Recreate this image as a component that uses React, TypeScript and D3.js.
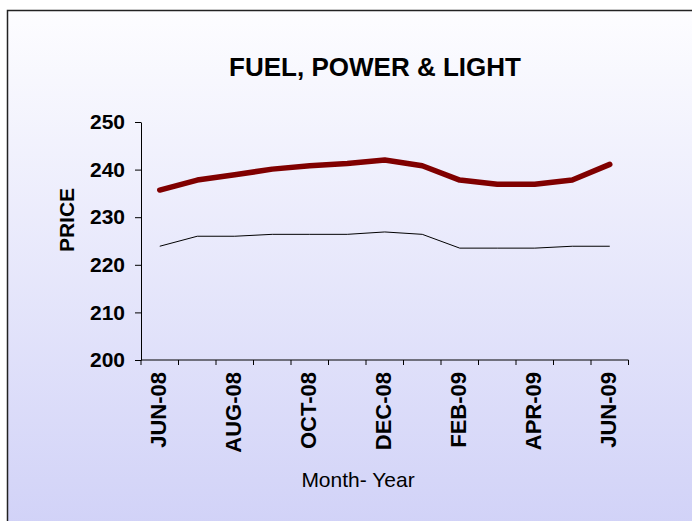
import { useEffect, useRef } from "react";
import * as d3 from "d3";

const months = [
  "JUN-08", "JUL-08", "AUG-08", "SEP-08", "OCT-08", "NOV-08", "DEC-08",
  "JAN-09", "FEB-09", "MAR-09", "APR-09", "MAY-09", "JUN-09",
];
const seriesA = [235.7, 237.8, 238.9, 240.1, 240.8, 241.3, 242.0, 240.8, 237.8, 236.9, 236.9, 237.8, 241.1];
const seriesB = [223.9, 226.0, 226.0, 226.4, 226.4, 226.4, 226.9, 226.4, 223.5, 223.5, 223.5, 223.9, 223.9];
const yTicks = [200, 210, 220, 230, 240, 250];

const FONT = "'Liberation Sans', Arial, Helvetica, sans-serif";

export default function App() {
  const ref = useRef<SVGSVGElement>(null);

  useEffect(() => {
    if (!ref.current) return;
    const w = 692;
    const h = 521;
    const m = { top: 122, left: 141, right: 628.5, bottom: 360 };

    const svg = d3.select(ref.current);
    svg.selectAll("*").remove();

    const defs = svg.append("defs");
    const grad = defs
      .append("linearGradient")
      .attr("id", "bg")
      .attr("x1", 0)
      .attr("y1", 0)
      .attr("x2", 0)
      .attr("y2", 1);
    grad.append("stop").attr("offset", "0%").attr("stop-color", "#fdfdff");
    grad.append("stop").attr("offset", "100%").attr("stop-color", "#cfd0f7");

    svg.append("rect").attr("width", w).attr("height", h).attr("fill", "#ffffff");
    svg
      .append("rect")
      .attr("x", 7.5)
      .attr("y", 10.5)
      .attr("width", w + 20)
      .attr("height", h + 20)
      .attr("fill", "url(#bg)")
      .attr("stroke", "#222")
      .attr("stroke-width", 1.5);

    const x = d3.scaleBand().domain(months).range([m.left, m.right]).padding(0);
    const y = d3.scaleLinear().domain([200, 250]).range([m.bottom, m.top]);

    svg
      .append("text")
      .attr("x", 375)
      .attr("y", 76)
      .attr("text-anchor", "middle")
      .attr("font-family", FONT)
      .attr("font-weight", "bold")
      .attr("font-size", 26)
      .text("FUEL, POWER & LIGHT");

    // y axis
    const ya = svg
      .append("g")
      .attr("transform", `translate(${m.left},0)`)
      .call(d3.axisLeft(y).tickValues(yTicks).tickSize(6).tickPadding(10).tickSizeOuter(0));
    ya.select(".domain").attr("stroke", "#000");
    ya.selectAll(".tick line").attr("stroke", "#000");
    ya.selectAll(".tick text")
      .attr("font-family", FONT)
      .attr("font-weight", "bold")
      .attr("font-size", 21)
      .attr("fill", "#000");

    // x axis, ticks between categories
    const xa = svg.append("g").attr("transform", `translate(0,${m.bottom})`);
    xa.append("line").attr("x1", m.left).attr("x2", m.right).attr("stroke", "#000");
    const edges = months.map((d) => x(d)!).concat([m.right]);
    xa.selectAll(".xt")
      .data(edges)
      .join("line")
      .attr("x1", (d) => d)
      .attr("x2", (d) => d)
      .attr("y1", 0)
      .attr("y2", 5)
      .attr("stroke", "#000");
    xa.selectAll(".xl")
      .data(months.filter((_, i) => i % 2 === 0))
      .join("text")
      .attr("transform", (d) => `translate(${x(d)! + x.bandwidth() / 2 - 1},12) rotate(-90)`)
      .attr("text-anchor", "end")
      .attr("dy", "0.35em")
      .attr("font-family", FONT)
      .attr("font-weight", "bold")
      .attr("font-size", 22)
      .text((d) => d);

    svg
      .append("text")
      .attr("transform", "translate(74,220) rotate(-90)")
      .attr("text-anchor", "middle")
      .attr("font-family", FONT)
      .attr("font-weight", "bold")
      .attr("font-size", 21)
      .text("PRICE");

    svg
      .append("text")
      .attr("x", 358)
      .attr("y", 487)
      .attr("text-anchor", "middle")
      .attr("font-family", FONT)
      .attr("font-size", 21)
      .text("Month- Year");

    const line = d3
      .line<number>()
      .x((_, i) => x(months[i])! + x.bandwidth() / 2)
      .y((d) => y(d));

    svg
      .append("path")
      .datum(seriesB)
      .attr("d", line)
      .attr("fill", "none")
      .attr("stroke", "#000")
      .attr("stroke-width", 1);

    svg
      .append("path")
      .datum(seriesA)
      .attr("d", line)
      .attr("fill", "none")
      .attr("stroke", "#800000")
      .attr("stroke-width", 5.5)
      .attr("stroke-linejoin", "round")
      .attr("stroke-linecap", "round");
  }, []);

  return (
    <svg
      ref={ref}
      width={692}
      height={521}
      style={{ position: "absolute", left: 0, top: 0, display: "block" }}
    />
  );
}
